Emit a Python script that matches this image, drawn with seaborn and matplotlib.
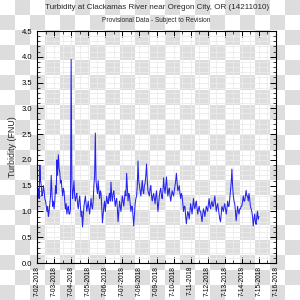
import numpy as np
import pandas as pd
import matplotlib
matplotlib.use("Agg")
import matplotlib.pyplot as plt
import matplotlib.dates as mdates
from matplotlib.ticker import MultipleLocator, FormatStrFormatter
from matplotlib.colors import ListedColormap
import seaborn as sns

# Hourly turbidity readings (FNU), one list per day
day_0702 = [1.15, 1.3, 1.45, 1.25, 1.9, 1.6, 1.5, 1.3, 1.35, 1.5, 1.4, 1.25,
            1.2, 1.1, 1.0, 1.1, 0.9, 1.0, 1.15, 1.3, 1.7, 1.35, 1.1, 1.2]
day_0703 = [1.05, 1.2, 1.5, 1.35, 2.0, 1.7, 2.1, 1.85, 1.75, 1.55, 1.6, 1.45,
            1.3, 1.45, 1.4, 1.2, 1.05, 1.15, 0.95, 1.05, 1.1, 0.95, 0.95, 1.05]
day_0704 = [3.95, 1.6, 1.25, 1.4, 1.6, 1.3, 1.2, 1.3, 1.35, 1.15, 1.05, 1.2,
            1.3, 1.1, 0.9, 1.0, 0.7, 0.9, 1.1, 1.2, 1.3, 1.15, 1.0, 1.1]
day_0705 = [1.2, 1.05, 0.95, 1.1, 1.25, 1.1, 1.05, 1.2, 1.5, 1.7, 2.52, 1.6,
            1.45, 1.35, 1.6, 1.4, 1.25, 1.4, 1.35, 1.1, 0.78, 0.95, 1.1, 1.2]
day_0706 = [1.0, 1.15, 1.3, 1.2, 1.15, 1.3, 1.35, 1.2, 1.57, 1.3, 1.2, 1.35,
            1.4, 1.25, 1.1, 1.2, 1.25, 1.05, 0.8, 1.0, 1.2, 1.1, 1.0, 1.15]
day_0707 = [1.3, 1.2, 1.1, 1.25, 1.4, 1.3, 1.74, 1.45, 1.2, 1.35, 1.3, 1.15,
            1.0, 1.1, 1.1, 0.9, 0.72, 0.95, 1.15, 1.25, 1.3, 1.5, 1.98, 1.6]
day_0708 = [1.5, 1.4, 1.3, 1.45, 1.6, 1.4, 1.35, 1.5, 1.55, 1.7, 1.92, 1.6,
            1.4, 1.35, 1.3, 1.45, 1.5, 1.3, 1.2, 1.3, 1.35, 1.25, 1.15, 1.3]
day_0709 = [1.4, 1.2, 1.0, 1.15, 1.3, 1.4, 1.45, 1.3, 1.25, 1.4, 1.65, 1.45,
            1.35, 1.5, 1.67, 1.45, 1.3, 1.4, 1.45, 1.3, 1.2, 1.3, 1.4, 1.35]
day_0710 = [1.3, 1.4, 1.5, 1.6, 1.74, 1.55, 1.4, 1.45, 1.5, 1.35, 1.25, 1.35,
            1.3, 1.15, 1.0, 1.1, 1.1, 0.9, 0.76, 0.9, 1.0, 0.95, 0.85, 1.0]
day_0711 = [1.15, 1.05, 0.95, 1.1, 1.25, 1.1, 1.05, 1.15, 1.2, 1.05, 0.95, 1.05,
            1.1, 1.0, 1.0, 0.9, 0.8, 0.95, 1.05, 1.0, 0.9, 1.0, 1.1, 1.05]
day_0712 = [1.0, 1.15, 1.25, 1.1, 1.05, 1.15, 1.2, 1.1, 1.1, 1.2, 1.3, 1.15,
            1.0, 1.1, 1.15, 1.05, 0.95, 0.85, 0.8, 0.95, 1.1, 1.05, 1.0, 1.1]
day_0713 = [1.15, 1.05, 0.95, 1.05, 1.2, 1.1, 1.1, 1.25, 1.4, 1.55, 1.82, 1.5,
            1.3, 1.2, 1.15, 1.0, 0.82, 0.95, 1.1, 1.0, 0.95, 1.05, 1.05, 1.1]
day_0714 = [1.1, 1.2, 1.3, 1.2, 1.2, 1.3, 1.41, 1.3, 1.3, 1.2, 1.35, 1.25,
            1.1, 1.05, 1.0, 0.9, 0.72, 0.85, 0.95, 0.8, 0.75, 0.9, 1.0, 0.85]
day_0715 = [0.9]

turbidity = (day_0702 + day_0703 + day_0704 + day_0705 + day_0706 + day_0707
             + day_0708 + day_0709 + day_0710 + day_0711 + day_0712 + day_0713
             + day_0714 + day_0715)

title = "Turbidity at Clackamas River near Oregon City, OR (14211010)"
subtitle = "Provisional Data - Subject to Revision"

df = pd.DataFrame({
    "time": pd.date_range("2018-07-02", periods=len(turbidity), freq="h"),
    "turbidity": turbidity,
})

sns.set_style("ticks")
plt.rcParams["font.family"] = ["Liberation Sans", "DejaVu Sans"]

fig = plt.figure(figsize=(3, 3), dpi=100)

# checkerboard backdrop (15 px cells)
bg = fig.add_axes([0, 0, 1, 1], zorder=0)
n = 20
checker = (np.add.outer(np.arange(n), np.arange(n)) % 2).astype(float)
bg.imshow(checker, cmap=ListedColormap(["#ffffff", "#dddddd"]),
          extent=[0, 300, 300, 0], interpolation="nearest", aspect="auto")
bg.set_axis_off()

ax = fig.add_axes([37 / 300, 37 / 300, 239 / 300, 232 / 300], zorder=1)
ax.set_facecolor("none")

sns.lineplot(data=df, x="time", y="turbidity", ax=ax, color="#2424ee",
             linewidth=0.75)

ax.set_xlim(pd.Timestamp("2018-07-02"), pd.Timestamp("2018-07-16"))
ax.set_ylim(0, 4.5)

ax.xaxis.set_major_locator(mdates.DayLocator())
ax.xaxis.set_minor_locator(mdates.HourLocator(byhour=[12]))
ax.xaxis.set_major_formatter(mdates.DateFormatter("%-m-%d-%Y"))
ax.yaxis.set_major_locator(MultipleLocator(0.5))
ax.yaxis.set_minor_locator(MultipleLocator(0.1))
ax.yaxis.set_major_formatter(FormatStrFormatter("%.1f"))

ax.grid(True, which="both", color="#ebebeb", linewidth=0.6)
ax.tick_params(which="both", direction="in", top=True, right=True,
               colors="black", labelsize=5.5)
ax.tick_params(which="major", length=4, width=0.7)
ax.tick_params(which="minor", length=2, width=0.5)
ax.tick_params(axis="x", labelrotation=90, labelsize=4.8, pad=2)
for s in ax.spines.values():
    s.set_color("black")
    s.set_linewidth(0.8)

ax.set_xlabel("")
ax.set_ylabel("Turbidity (FNU)", fontsize=6.4, labelpad=3)

fig.text(0.522, 0.975, title, ha="center", va="center", fontsize=5.8)
fig.text(0.522, 0.932, subtitle, ha="center", va="center", fontsize=4.7)

fig.savefig("out.png", dpi=100)
